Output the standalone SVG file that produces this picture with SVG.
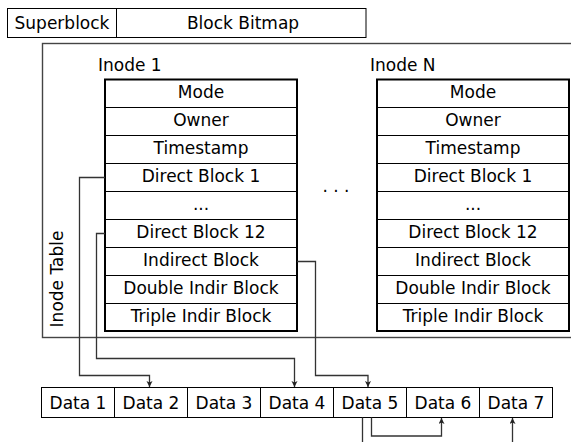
<svg xmlns="http://www.w3.org/2000/svg" width="571" height="442" viewBox="0 0 571 442">
<defs>
<marker id="arr" markerUnits="userSpaceOnUse" markerWidth="8" markerHeight="8" refX="6" refY="3" orient="auto">
<path d="M0,0 L6,3 L0,6 L1.5,3 z" fill="#222"/>
</marker>
<style>
text{font-family:"DejaVu Sans","Liberation Sans",sans-serif;font-size:17px;fill:#000;text-anchor:middle}
.box{fill:#fff;stroke:#000;stroke-width:1}
.ibox{fill:none;stroke:#000;stroke-width:2}
.sep{stroke:#000;stroke-width:1}
.tbl{fill:none;stroke:#444;stroke-width:1.4}
.con{fill:none;stroke:#333;stroke-width:1.3}
.lbl{text-anchor:start}
</style>
</defs>
<g id="top">
<rect class="box" x="7.5" y="8.5" width="109" height="29"/>
<text x="62" y="28.5">Superblock</text>
<rect class="box" x="116.5" y="8.5" width="249.5" height="29"/>
<text x="243" y="28.5">Block Bitmap</text>
</g>
<g id="inode-table">
<rect class="tbl" x="42.5" y="43.5" width="600" height="294"/>
<text transform="translate(63,279) rotate(-90)">Inode Table</text>
</g>
<g id="inode1">
<text class="lbl" x="98" y="71">Inode 1</text>
<rect class="ibox" x="105" y="79.5" width="192" height="251.5"/>
<line class="sep" x1="105" y1="107.5" x2="297" y2="107.5"/>
<line class="sep" x1="105" y1="135.5" x2="297" y2="135.5"/>
<line class="sep" x1="105" y1="163.5" x2="297" y2="163.5"/>
<line class="sep" x1="105" y1="191.5" x2="297" y2="191.5"/>
<line class="sep" x1="105" y1="219.5" x2="297" y2="219.5"/>
<line class="sep" x1="105" y1="247.5" x2="297" y2="247.5"/>
<line class="sep" x1="105" y1="275.5" x2="297" y2="275.5"/>
<line class="sep" x1="105" y1="303.5" x2="297" y2="303.5"/>
<text x="201" y="97.5">Mode</text>
<text x="201" y="125.5">Owner</text>
<text x="201" y="153.5">Timestamp</text>
<text x="201" y="181.5">Direct Block 1</text>
<text x="201" y="209.5">...</text>
<text x="201" y="237.5">Direct Block 12</text>
<text x="201" y="265.5">Indirect Block</text>
<text x="201" y="293.5">Double Indir Block</text>
<text x="201" y="321.5">Triple Indir Block</text>
</g>
<g id="dots">
<text x="336" y="192">. . .</text>
</g>
<g id="inodeN">
<text class="lbl" x="370" y="71">Inode N</text>
<rect class="ibox" x="377" y="79.5" width="192" height="251.5"/>
<line class="sep" x1="377" y1="107.5" x2="569" y2="107.5"/>
<line class="sep" x1="377" y1="135.5" x2="569" y2="135.5"/>
<line class="sep" x1="377" y1="163.5" x2="569" y2="163.5"/>
<line class="sep" x1="377" y1="191.5" x2="569" y2="191.5"/>
<line class="sep" x1="377" y1="219.5" x2="569" y2="219.5"/>
<line class="sep" x1="377" y1="247.5" x2="569" y2="247.5"/>
<line class="sep" x1="377" y1="275.5" x2="569" y2="275.5"/>
<line class="sep" x1="377" y1="303.5" x2="569" y2="303.5"/>
<text x="473" y="97.5">Mode</text>
<text x="473" y="125.5">Owner</text>
<text x="473" y="153.5">Timestamp</text>
<text x="473" y="181.5">Direct Block 1</text>
<text x="473" y="209.5">...</text>
<text x="473" y="237.5">Direct Block 12</text>
<text x="473" y="265.5">Indirect Block</text>
<text x="473" y="293.5">Double Indir Block</text>
<text x="473" y="321.5">Triple Indir Block</text>
</g>
<g id="data">
<rect class="box" x="41.5" y="387.5" width="73" height="30"/>
<rect class="box" x="114.5" y="387.5" width="73" height="30"/>
<rect class="box" x="187.5" y="387.5" width="73" height="30"/>
<rect class="box" x="260.5" y="387.5" width="73" height="30"/>
<rect class="box" x="333.5" y="387.5" width="73" height="30"/>
<rect class="box" x="406.5" y="387.5" width="73" height="30"/>
<rect class="box" x="479.5" y="387.5" width="73" height="30"/>
<text x="78" y="409">Data 1</text>
<text x="151" y="409">Data 2</text>
<text x="224" y="409">Data 3</text>
<text x="297" y="409">Data 4</text>
<text x="370" y="409">Data 5</text>
<text x="443" y="409">Data 6</text>
<text x="516" y="409">Data 7</text>
</g>
<g id="connectors">
<path class="con" d="M105,177.5 H79.5 V375.5 H149.5 V387" marker-end="url(#arr)"/>
<path class="con" d="M105,233.5 H96.5 V358.5 H294.5 V387" marker-end="url(#arr)"/>
<path class="con" d="M297,261.5 H315.5 V375.5 H368 V387" marker-end="url(#arr)"/>
<path class="con" d="M362.5,417.5 V442"/>
<path class="con" d="M371.5,417.5 V436 H441.5 V418" marker-end="url(#arr)"/>
<path class="con" d="M512.5,442 V418" marker-end="url(#arr)"/>
</g>
</svg>
